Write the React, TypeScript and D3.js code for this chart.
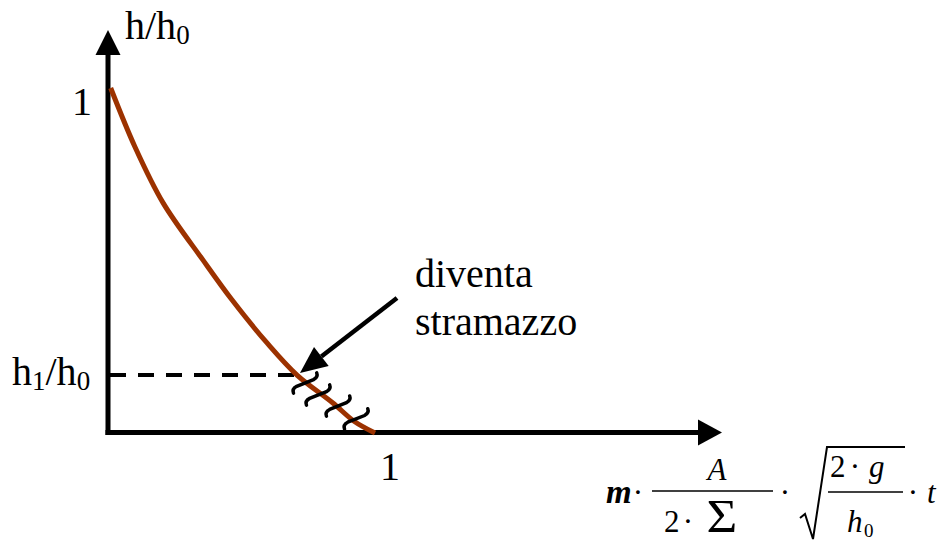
import React from "react";
import * as d3 from "d3";

// Dimensionless level h/h0 against dimensionless time
const curveX = [0.01, 0.1, 0.204, 0.352, 0.459, 0.589, 0.7, 0.833, 0.91, 0.989];
const curveY = [1.0, 0.829, 0.667, 0.501, 0.386, 0.261, 0.168, 0.087, 0.035, 0.0];

// Level at which the outflow becomes a weir
const h1Ratio = 0.168;
const h1Time = 0.695;

// Wavy marks along the weir stretch of the curve
const hatchX = [0.73, 0.778, 0.852, 0.919];
const hatchY = [0.145, 0.11, 0.078, 0.041];

const xTickLabels = ["1"];
const yTickLabels = ["1"];

const W = 945;
const H = 542;
const SERIF = '"Liberation Serif", "Times New Roman", Times, serif';
const CURVE_COLOR = "#9c3200";

export default function App() {
  const x = d3.scaleLinear().domain([0, 1]).range([108, 378]);
  const y = d3.scaleLinear().domain([0, 1]).range([433, 88]);

  const pts: [number, number][] = curveX.map((v, i) => [v, curveY[i]]);
  const line = d3
    .line<[number, number]>()
    .x((d) => x(d[0]))
    .y((d) => y(d[1]))
    .curve(d3.curveCatmullRom.alpha(0.5));

  const ox = x(0);
  const oy = y(0) - 0.5;
  // axis arrow geometry
  const yTip = 30;
  const yBase = 55;
  const xTip = 722;
  const xBase = 698;

  // annotation arrow
  const aStart = [397, 298];
  const aTip = [300, 373];
  const ang = Math.atan2(aTip[1] - aStart[1], aTip[0] - aStart[0]);
  const headLen = 27;
  const headHalf = 12;
  const bx = aTip[0] - headLen * Math.cos(ang);
  const by = aTip[1] - headLen * Math.sin(ang);
  const px = -Math.sin(ang);
  const py = Math.cos(ang);

  // tilde-shaped tick drawn along its own horizontal axis, then rotated
  const hatchPath = "M -15 3.5 Q -14.5 -1 -9 -1 L 9 1 Q 14.5 1 15 -3.5";

  return (
    <svg
      width={W}
      height={H}
      style={{ position: "absolute", left: 0, top: 0, background: "#fff", fontFamily: SERIF }}
    >
      <rect width={W} height={H} fill="#fff" />

      {/* axes */}
      <line x1={ox} y1={oy + 2.5} x2={ox} y2={yBase} stroke="#000" strokeWidth={5} />
      <path d={`M ${ox} ${yTip} L ${ox - 12.5} ${yBase} L ${ox + 12.5} ${yBase} Z`} fill="#000" />
      <line x1={ox - 2.5} y1={oy} x2={xBase} y2={oy} stroke="#000" strokeWidth={5} />
      <path d={`M ${xTip} ${oy} L ${xBase} ${oy - 13} L ${xBase} ${oy + 13} Z`} fill="#000" />

      {/* dashed reference level */}
      <line
        x1={ox + 2}
        y1={y(h1Ratio)}
        x2={x(h1Time)}
        y2={y(h1Ratio)}
        stroke="#000"
        strokeWidth={4}
        strokeDasharray="16 12"
      />

      {/* h/h0 curve */}
      <path d={line(pts) || ""} fill="none" stroke={CURVE_COLOR} strokeWidth={5} />

      {/* wavy marks */}
      {hatchX.map((hx, i) => (
        <path
          key={i}
          d={hatchPath}
          transform={`translate(${x(hx)},${y(hatchY[i])}) rotate(-28)`}
          fill="none"
          stroke="#000"
          strokeWidth={3.5}
          strokeLinecap="round"
        />
      ))}

      {/* annotation arrow */}
      <line x1={aStart[0]} y1={aStart[1]} x2={bx} y2={by} stroke="#000" strokeWidth={4.5} />
      <path
        d={`M ${aTip[0]} ${aTip[1]} L ${bx + px * headHalf} ${by + py * headHalf} L ${bx - px * headHalf} ${by - py * headHalf} Z`}
        fill="#000"
      />
      <text x={415} y={287} fontSize={40} fill="#000">diventa</text>
      <text x={415} y={335} fontSize={40} fill="#000">stramazzo</text>

      {/* tick labels */}
      <text x={x(1) + 2} y={480} fontSize={40} fill="#000">{xTickLabels[0]}</text>
      <text x={ox - 36} y={115} fontSize={40} fill="#000">{yTickLabels[0]}</text>

      {/* axis labels */}
      <text x={125} y={39} fontSize={40} fill="#000">
        h/h<tspan fontSize={27} dy={5}>0</tspan>
      </text>
      <text x={12} y={385} fontSize={40} fill="#000">
        h<tspan fontSize={27} dy={5}>1</tspan>
        <tspan dy={-5}>/h</tspan>
        <tspan fontSize={27} dy={5}>0</tspan>
      </text>

      {/* time group: m·A/(2·Σ)·sqrt(2·g/h0)·t */}
      <g fill="#000" fontSize={31}>
        <text x={606} y={503} fontWeight="bold" fontStyle="italic" fontSize={33}>m</text>
        <text x={638} y={503} textAnchor="middle">·</text>
        <line x1={652} y1={491} x2={773} y2={491} stroke="#000" strokeWidth={1.6} />
        <text x={717} y={480} textAnchor="middle" fontStyle="italic">A</text>
        <text x={664} y={532}>2</text>
        <text x={688} y={532} textAnchor="middle">·</text>
        <text x={722} y={532} fontSize={46} textAnchor="middle" transform="translate(722,0) scale(1.15,1) translate(-722,0)">Σ</text>
        <text x={785} y={503} textAnchor="middle">·</text>
        <path d="M 800 518 L 805 514 L 813 539 L 827 447 L 905 447" fill="none" stroke="#000" strokeWidth={2} />
        <text x={830} y={477}>2</text>
        <text x={855} y={477} textAnchor="middle">·</text>
        <text x={869} y={477} fontStyle="italic">g</text>
        <line x1={828} y1={492} x2={903} y2={492} stroke="#000" strokeWidth={1.6} />
        <text x={847} y={532} fontStyle="italic">h</text>
        <text x={864} y={537} fontSize={19}>0</text>
        <text x={913} y={503} textAnchor="middle">·</text>
        <text x={927} y={503} fontStyle="italic">t</text>
      </g>
    </svg>
  );
}
